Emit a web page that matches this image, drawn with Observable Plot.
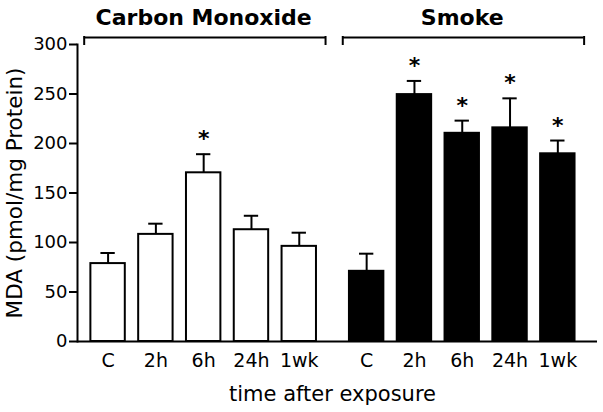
<!DOCTYPE html>
<html>
<head>
<meta charset="utf-8">
<script src="https://cdn.jsdelivr.net/npm/d3@7"></script>
<script src="https://cdn.jsdelivr.net/npm/@observablehq/plot@0.6"></script>
<style>
  html, body { margin: 0; padding: 0; background: white; }
  #chart svg { display: block; }
  #chart g[aria-label="y-axis tick label"] { font-size: 18px; }
  #chart g[aria-label="x-axis tick label"] { font-size: 19px; }
</style>
</head>
<body>
<div id="chart"></div>
<script>
// ---- data ----
const times = ["C", "2h", "6h", "24h", "1wk"];
const groups = ["Carbon Monoxide", "Smoke"];
const coMean = [78.7, 108.2, 170.4, 112.9, 96.1];
const coSem = [10.7, 10.8, 18.8, 14.1, 13.8];
const coSig = [false, false, true, false, false];
const smokeMean = [70.9, 249.4, 210.3, 215.8, 189.6];
const smokeSem = [17.8, 13.8, 12.8, 29.8, 13.4];
const smokeSig = [false, true, true, true, true];
const yTicks = [0, 50, 100, 150, 200, 250, 300];
const yLabel = "MDA (pmol/mg Protein)";
const xLabel = "time after exposure";

// ---- layout helpers (not data) ----
const groupGap = 1.41;   // extra space between the two groups, in bar steps
const halfBar = 0.36;
const halfCap = 0.15;

const rows = [];
[[coMean, coSem, coSig], [smokeMean, smokeSem, smokeSig]].forEach(([m, s, sig], g) => {
  times.forEach((t, i) => {
    rows.push({
      group: groups[g],
      g,
      time: t,
      pos: i + g * (times.length + groupGap - 1),
      mean: m[i],
      top: m[i] + s[i],
      sig: sig[i]
    });
  });
});

const brackets = groups.map((name, g) => {
  const r = rows.filter(d => d.g === g);
  const first = r[0].pos, last = r[r.length - 1].pos;
  return {name, x1: first - 0.5, x2: last + 0.55, mid: (first + last) / 2};
});
const bracketEnds = brackets.flatMap(b => [{x: b.x1}, {x: b.x2}]);

const labelByPos = new Map(rows.map(d => [d.pos, d.time]));
const lastPos = rows[rows.length - 1].pos;

const chart = Plot.plot({
  width: 603,
  height: 412,
  marginLeft: 77,
  marginRight: 6,
  marginTop: 44,
  marginBottom: 71,
  style: {fontFamily: "DejaVu Sans", fontSize: "18px", color: "black", background: "white", overflow: "visible"},
  x: {domain: [-0.64, lastPos + 0.83]},
  y: {domain: [0, 300]},
  marks: [
    // bars
    Plot.rectY(rows, {
      x1: d => d.pos - halfBar, x2: d => d.pos + halfBar, y1: 0, y2: "mean",
      fill: d => d.g === 0 ? "white" : "black", stroke: "black", strokeWidth: 2
    }),
    // error bars (upper only)
    Plot.ruleX(rows, {x: "pos", y1: "mean", y2: "top", stroke: "black", strokeWidth: 2}),
    Plot.ruleY(rows, {y: "top", x1: d => d.pos - halfCap, x2: d => d.pos + halfCap, stroke: "black", strokeWidth: 2}),
    // significance asterisks
    Plot.text(rows.filter(d => d.sig), {
      x: "pos", y: "top", text: () => "*", lineAnchor: "bottom", dy: -8,
      fontSize: 22, fontWeight: "bold", fill: "black"
    }),
    // axes
    Plot.axisY({ticks: yTicks, tickSize: 8, tickPadding: 2, fontSize: 18, label: null, strokeWidth: 2}),
    Plot.axisX({
      ticks: rows.map(d => d.pos), tickFormat: d => labelByPos.get(d),
      tickSize: 0, tickPadding: 12, fontSize: 19, label: null
    }),
    Plot.frame({anchor: "left", strokeWidth: 2}),
    Plot.ruleY([0], {stroke: "black", strokeWidth: 2}),
    // axis titles
    Plot.text([yLabel], {
      frameAnchor: "left", rotate: -90, dx: -62, lineAnchor: "middle", textAnchor: "middle",
      fontSize: 21.5, fill: "black"
    }),
    Plot.text([xLabel], {
      frameAnchor: "bottom", dy: 59, dx: -5, lineAnchor: "bottom",
      fontSize: 21, fill: "black"
    }),
    // group brackets and titles
    Plot.ruleY(brackets, {y: 300, x1: "x1", x2: "x2", dy: -7, stroke: "black", strokeWidth: 2}),
    Plot.ruleX(bracketEnds, {x: "x", y1: 300, y2: 300, insetTop: -8, insetBottom: -1, stroke: "black", strokeWidth: 2}),
    Plot.text(brackets, {
      x: "mid", y: 300, text: "name", dy: -20, lineAnchor: "bottom",
      fontSize: 22, fontWeight: "bold", fill: "black"
    })
  ]
});

document.getElementById("chart").append(chart);
</script>
</body>
</html>
